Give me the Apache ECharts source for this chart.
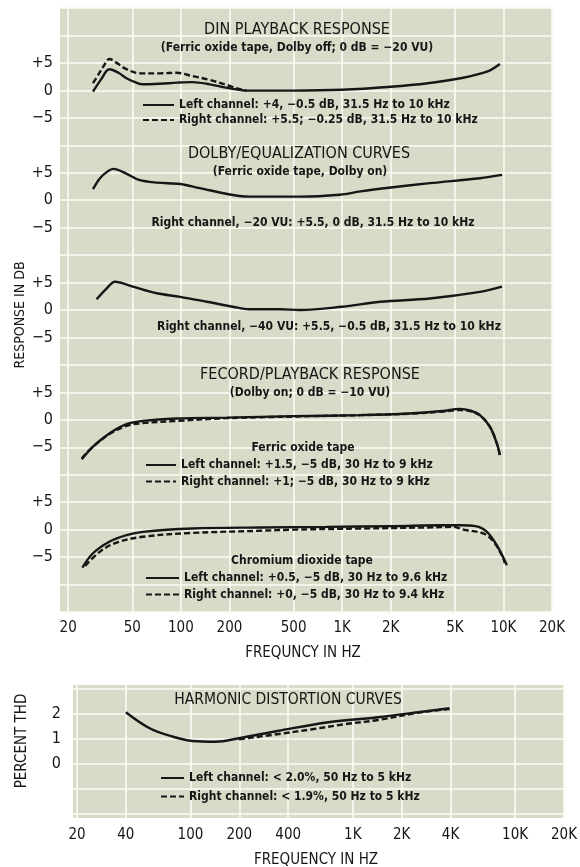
<!DOCTYPE html>
<html>
<head>
<meta charset="utf-8">
<script src="https://cdn.jsdelivr.net/npm/echarts@6/dist/echarts.min.js"></script>
<style>
html,body{margin:0;padding:0;background:#fff;}
#chart{width:580px;height:867px;}
</style>
</head>
<body>
<div id="chart"></div>
<script>
// ---------- tick labels ----------
const mainFreqTicks = [20, 50, 100, 200, 500, 1000, 2000, 5000, 10000, 20000];
const thdFreqTicks = [20, 40, 100, 200, 400, 1000, 2000, 4000, 10000, 20000];
const dbTicks = [-5, 0, 5];
const thdTicks = [0, 1, 2];
const thdGridTicks = [-2, -1, 0, 1, 2, 3];

// ---------- DIN playback response ----------
const dinLeftHz = [28.5, 32, 36, 41, 46, 52, 58, 74, 95, 118, 151, 190, 230, 257, 500, 1000, 2000, 3400, 5400, 7900, 9500];
const dinLeftDb = [-0.25, 2.0, 3.85, 3.2, 2.2, 1.5, 1.1, 1.2, 1.4, 1.5, 1.1, 0.5, 0.1, -0.05, -0.05, 0.1, 0.65, 1.3, 2.2, 3.4, 4.8];
const dinRightHz = [28.5, 31, 33, 36, 41, 46, 56, 74, 94, 118, 151, 192, 232, 255];
const dinRightDb = [1.3, 3.0, 4.3, 5.7, 4.8, 3.85, 3.1, 3.1, 3.2, 2.6, 1.9, 1.0, 0.2, 0.0];

// ---------- Dolby / equalization ----------
const dolby20Hz = [28.5, 31.5, 35, 38, 45.5, 55, 71, 99, 131, 210, 265, 411, 548, 968, 1300, 2000, 3500, 7150, 9800];
const dolby20Db = [2.0, 4.0, 5.2, 5.7, 4.9, 3.7, 3.2, 2.95, 2.2, 0.95, 0.64, 0.64, 0.64, 1.0, 1.6, 2.3, 3.1, 4.0, 4.6];
const dolby40Hz = [30, 34.7, 39, 50.5, 71, 99, 145, 210, 265, 411, 548, 1000, 1716, 3500, 7150, 9800];
const dolby40Db = [1.95, 3.95, 5.15, 4.25, 3.05, 2.4, 1.5, 0.6, 0.13, 0.13, 0.0, 0.6, 1.5, 2.1, 3.3, 4.25];

// ---------- Record / playback ----------
const ferricHz = [24.3, 28.5, 36, 46, 58, 94, 192, 500, 1290, 2600, 4200, 5375, 6200, 7150, 8250, 9100, 9500];
const ferricLeftDb = [-7.2, -4.9, -2.5, -0.8, -0.2, 0.25, 0.4, 0.67, 0.85, 1.15, 1.6, 2.0, 1.7, 0.85, -1.3, -4.3, -6.4];
const ferricRightDb = [-7.0, -4.9, -2.6, -1.1, -0.6, -0.2, 0.3, 0.6, 0.85, 1.1, 1.5, 1.8, 1.6, 0.8, -1.3, -4.3, -6.4];
const chromeLeftHz = [24.5, 28.5, 36, 46, 58, 118, 310, 800, 2070, 4200, 5375, 6700, 7900, 9200, 10500];
const chromeLeftDb = [-6.9, -4.3, -2.2, -1.0, -0.4, 0.2, 0.4, 0.5, 0.64, 0.8, 0.8, 0.64, -0.4, -3.1, -6.5];
const chromeRightHz = [25.5, 31.5, 39.5, 58, 118, 310, 500, 1290, 3370, 4900, 5650, 7500, 8700, 9900, 10200];
const chromeRightDb = [-6.6, -4.0, -2.4, -1.3, -0.6, -0.2, 0.0, 0.2, 0.4, 0.5, 0.0, -0.7, -2.2, -5.0, -6.1];

// ---------- Harmonic distortion ----------
const thdLeftHz = [40, 56, 78, 103, 143, 199, 350, 708, 1430, 2520, 3940];
const thdLeftPct = [2.07, 1.43, 1.09, 0.92, 0.89, 1.03, 1.33, 1.67, 1.87, 2.07, 2.23];
const thdRightHz = [199, 350, 560, 890, 1430, 2520, 3940];
const thdRightPct = [0.99, 1.2, 1.39, 1.59, 1.76, 2.05, 2.2];

// ---------- legend texts ----------
const legendText = {
  dinL: 'Left channel: +4, \u22120.5 dB, 31.5 Hz to 10 kHz',
  dinR: 'Right channel: +5.5; \u22120.25 dB, 31.5 Hz to 10 kHz',
  ferL: 'Left channel: +1.5, \u22125 dB, 30 Hz to 9 kHz',
  ferR: 'Right channel: +1; \u22125 dB, 30 Hz to 9 kHz',
  crL: 'Left channel: +0.5, \u22125 dB, 30 Hz to 9.6 kHz',
  crR: 'Right channel: +0, \u22125 dB, 30 Hz to 9.4 kHz',
  thL: 'Left channel: < 2.0%, 50 Hz to 5 kHz',
  thR: 'Right channel: < 1.9%, 50 Hz to 5 kHz'
};

const FONT = "'Liberation Sans Narrow','DejaVu Sans Condensed','Liberation Sans',sans-serif";
const INK = '#161616';
const PAPER = '#d9dbc8';
const GRIDLINE = 'rgba(250,250,244,0.8)';

const zip = (xs, ys) => xs.map((x, i) => [x, ys[i]]);
const fmtHz = v => v >= 1000 ? (v / 1000) + 'K' : String(v);
const fmtDb = v => v > 0 ? '+' + v : (v < 0 ? '\u2212' + (-v) : '0');

// main panel geometry
const L = 60, R = 28;
const unitPx = 604 / 22;           // 5 dB per grid square
const subTops = [2, 6, 10, 14, 18];
const grids = [
  {left: L, right: R, top: 8, height: 604, show: true, backgroundColor: PAPER, borderWidth: 0}
];
subTops.forEach(k => {
  grids.push({left: L, right: R, top: 8 + (k - 1) * unitPx, height: 4 * unitPx, show: false});
});
grids.push({left: 73, right: 15, top: 685, height: 133, show: true, backgroundColor: PAPER, borderWidth: 0});

const xAxes = [];
const yAxes = [];
xAxes.push({
  type: 'log', gridIndex: 0, min: 17.8, max: 20000,
  axisLine: {show: false}, axisTick: {show: false, customValues: mainFreqTicks},
  axisLabel: {customValues: mainFreqTicks, formatter: fmtHz, color: INK, fontFamily: FONT, fontSize: 15, margin: 9, hideOverlap: false},
  splitLine: {show: true, lineStyle: {color: GRIDLINE, width: 2}}
});
yAxes.push({
  type: 'value', gridIndex: 0, min: 0, max: 22, interval: 1,
  axisLine: {show: false}, axisTick: {show: false}, axisLabel: {show: false},
  splitLine: {show: true, lineStyle: {color: GRIDLINE, width: 2}}
});
for (let i = 1; i <= 5; i++) {
  xAxes.push({type: 'log', gridIndex: i, min: 17.8, max: 20000, show: false});
  yAxes.push({
    type: 'value', gridIndex: i, min: -10, max: 10,
    axisLine: {show: false}, axisTick: {show: false},
    axisLabel: {customValues: dbTicks, formatter: fmtDb, color: INK, fontFamily: FONT, fontSize: 16, margin: 7},
    splitLine: {show: false}
  });
}
xAxes.push({
  type: 'log', gridIndex: 6, min: 18.9, max: 20000,
  axisLine: {show: false}, axisTick: {show: false, customValues: thdFreqTicks},
  axisLabel: {customValues: thdFreqTicks, formatter: fmtHz, color: INK, fontFamily: FONT, fontSize: 15, margin: 10, hideOverlap: false},
  splitLine: {show: true, lineStyle: {color: GRIDLINE, width: 2}}
});
yAxes.push({
  type: 'value', gridIndex: 6, min: -2.16, max: 3.16,
  axisLine: {show: false}, axisTick: {show: false, customValues: thdGridTicks},
  axisLabel: {customValues: thdTicks, color: INK, fontFamily: FONT, fontSize: 16, margin: 12},
  splitLine: {show: true, lineStyle: {color: GRIDLINE, width: 2}}
});

function curve(name, idx, xs, ys, dashed) {
  return {
    name: name, type: 'line', xAxisIndex: idx, yAxisIndex: idx,
    data: zip(xs, ys), symbol: 'none', smooth: 0.35, silent: true,
    lineStyle: {color: INK, width: 2.4, type: dashed ? [6, 3] : 'solid'},
    itemStyle: {color: INK}, z: dashed ? 3 : 4
  };
}

const series = [
  curve('dinR', 1, dinRightHz, dinRightDb, true),
  curve('dinL', 1, dinLeftHz, dinLeftDb, false),
  curve('dolby20', 2, dolby20Hz, dolby20Db, false),
  curve('dolby40', 3, dolby40Hz, dolby40Db, false),
  curve('ferR', 4, ferricHz, ferricRightDb, true),
  curve('ferL', 4, ferricHz, ferricLeftDb, false),
  curve('crR', 5, chromeRightHz, chromeRightDb, true),
  curve('crL', 5, chromeLeftHz, chromeLeftDb, false),
  curve('thR', 6, thdRightHz, thdRightPct, true),
  curve('thL', 6, thdLeftHz, thdLeftPct, false)
];

function legend(names, left, top, itemWidth, gap) {
  return {
    data: names, left: left, top: top, orient: 'vertical', padding: 0, z: 20,
    itemWidth: itemWidth, itemHeight: 14, itemGap: gap, selectedMode: false,
    itemStyle: {opacity: 0, color: 'rgba(0,0,0,0)', borderWidth: 0},
    lineStyle: {width: 2},
    formatter: n => legendText[n],
    textStyle: {color: INK, fontFamily: FONT, fontSize: 12, fontWeight: 'bold', lineHeight: 14}
  };
}

function txt(x, y, text, size, weight, rot) {
  return {
    type: 'text', x: x, y: y, rotation: rot || 0, silent: true, z: 100,
    style: {text: text, fill: INK, font: (weight || 'normal') + ' ' + size + 'px ' + FONT,
      align: 'center', verticalAlign: 'middle', textAlign: 'center', textVerticalAlign: 'middle'}
  };
}

const graphics = [
  txt(297, 30, 'DIN PLAYBACK RESPONSE', 16),
  txt(297, 48, '(Ferric oxide tape, Dolby off; 0 dB = \u221220 VU)', 12, 'bold'),
  txt(299, 154, 'DOLBY/EQUALIZATION CURVES', 16),
  txt(300, 172, '(Ferric oxide tape, Dolby on)', 12, 'bold'),
  txt(313, 223, 'Right channel, \u221220 VU: +5.5, 0 dB, 31.5 Hz to 10 kHz', 12, 'bold'),
  txt(329, 327, 'Right channel, \u221240 VU: +5.5, \u22120.5 dB, 31.5 Hz to 10 kHz', 12, 'bold'),
  txt(310, 375, 'FECORD/PLAYBACK RESPONSE', 16),
  txt(310, 393, '(Dolby on; 0 dB = \u221210 VU)', 12, 'bold'),
  txt(303, 448, 'Ferric oxide tape', 12, 'bold'),
  txt(302, 561, 'Chromium dioxide tape', 12, 'bold'),
  txt(303, 653, 'FREQUNCY IN HZ', 15),
  txt(20, 315, 'RESPONSE IN DB', 14, 'normal', Math.PI / 2),
  txt(288, 700, 'HARMONIC DISTORTION CURVES', 15.5),
  txt(316, 860, 'FREQUENCY IN HZ', 15),
  txt(22, 741, 'PERCENT THD', 15, 'normal', Math.PI / 2)
];

const chart = echarts.init(document.getElementById('chart'), null, {renderer: 'canvas'});
chart.setOption({
  backgroundColor: '#ffffff',
  animation: false,
  grid: grids,
  xAxis: xAxes,
  yAxis: yAxes,
  series: series,
  legend: [
    legend(['dinL', 'dinR'], 142, 98, 31, 1),
    legend(['ferL', 'ferR'], 145, 458, 30, 2.5),
    legend(['crL', 'crR'], 145, 571, 33, 2.5),
    legend(['thL', 'thR'], 160, 771, 23, 4.5)
  ],
  graphic: graphics
});
</script>
</body>
</html>
